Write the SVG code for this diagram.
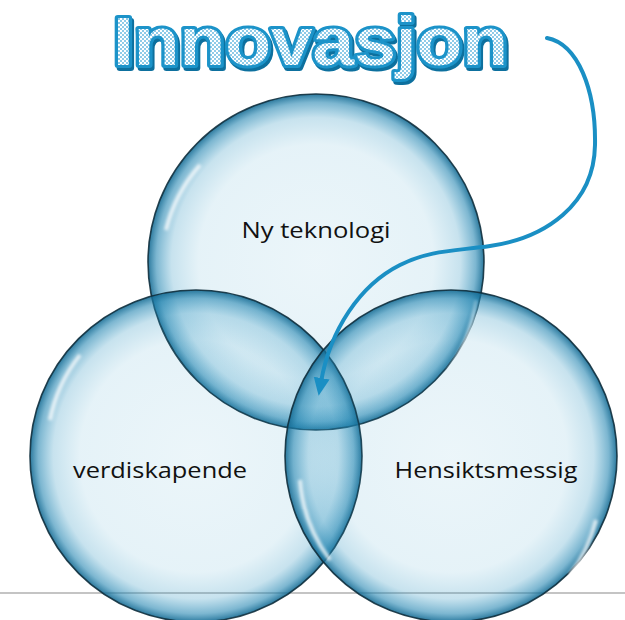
<svg xmlns="http://www.w3.org/2000/svg" width="625" height="620" viewBox="0 0 625 620">
<defs>
  <radialGradient id="bubble" cx="50%" cy="50%" r="50%">
    <stop offset="0%" stop-color="rgb(40,150,195)" stop-opacity="0.09"/>
    <stop offset="70%" stop-color="rgb(40,150,195)" stop-opacity="0.12"/>
    <stop offset="86%" stop-color="rgb(40,145,190)" stop-opacity="0.26"/>
    <stop offset="95%" stop-color="rgb(30,130,175)" stop-opacity="0.58"/>
    <stop offset="100%" stop-color="rgb(20,105,145)" stop-opacity="0.9"/>
  </radialGradient>
  <pattern id="checker" width="4" height="4" patternUnits="userSpaceOnUse">
    <rect width="4" height="4" fill="#ffffff"/>
    <rect width="2" height="2" fill="#8fcbe8"/>
    <rect x="2" y="2" width="2" height="2" fill="#8fcbe8"/>
  </pattern>
  <filter id="blur" x="-20%" y="-20%" width="140%" height="140%">
    <feGaussianBlur stdDeviation="1.6"/>
  </filter>
  <filter id="shadow" x="-5%" y="-10%" width="110%" height="130%">
    <feOffset in="SourceAlpha" dx="2" dy="3" result="off"/>
    <feFlood flood-color="#0d6f9e"/>
    <feComposite in2="off" operator="in" result="sh"/>
    <feMerge>
      <feMergeNode in="sh"/>
      <feMergeNode in="SourceGraphic"/>
    </feMerge>
  </filter>
  <marker id="arrow" markerUnits="userSpaceOnUse" markerWidth="20" markerHeight="20" refX="4" refY="8" orient="auto">
    <path d="M0,0 L18,8 L0,16 Z" fill="#1a8fc4"/>
  </marker>
  <style>
    .bubble { fill: url(#bubble); stroke: #0f2f3d; stroke-width: 1.6; stroke-opacity: 0.9; }
    .hl { fill: none; stroke: #ffffff; stroke-width: 4; stroke-opacity: 0.75; filter: url(#blur); }
    .label { font-family: "Open Sans", "DejaVu Sans", sans-serif; font-size: 22px; fill: #111111; }
    .title { font-family: "Liberation Sans", Arial, sans-serif; font-weight: bold; font-size: 68px; }
  </style>
</defs>
<rect width="625" height="620" fill="#ffffff"/>
<line x1="0" y1="593" x2="625" y2="593" stroke="#c4c4c4" stroke-width="2"/>

<g id="title" filter="url(#shadow)">
  <text class="title" x="113" y="65" textLength="395" lengthAdjust="spacingAndGlyphs" fill="url(#checker)" stroke="#1a93c9" stroke-width="6" stroke-linejoin="round" paint-order="stroke">Innovasjon</text>
</g>

<g id="node-ny-teknologi">
  <circle class="bubble" cx="316" cy="262" r="168"/>
  <path class="hl" d="M166,230 A152,152 0 0 1 200,165"/>
  <path class="hl" d="M476,300 A162,162 0 0 1 448,372"/>
  <text class="label" x="316" y="238" text-anchor="middle" textLength="149" lengthAdjust="spacingAndGlyphs">Ny teknologi</text>
</g>

<g id="node-verdiskapende">
  <circle class="bubble" cx="196" cy="456" r="166"/>
  <path class="hl" d="M50,420 A150,150 0 0 1 80,355"/>
  <text class="label" x="160" y="478" text-anchor="middle" textLength="174" lengthAdjust="spacingAndGlyphs">verdiskapende</text>
</g>

<g id="node-hensiktsmessig">
  <circle class="bubble" cx="451" cy="456" r="166"/>
  <path class="hl" d="M300,480 A152,152 0 0 0 330,560"/>
  <path class="hl" d="M596,520 A160,160 0 0 1 570,575"/>
  <text class="label" x="486" y="478" text-anchor="middle" textLength="183" lengthAdjust="spacingAndGlyphs">Hensiktsmessig</text>
</g>

<g id="connectors">
  <path d="M547,38 C578,44 596,90 595,145 C594,205 545,238 490,246 C455,251 430,250 400,265 C360,285 330,330 321,382" fill="none" stroke="#1a8fc4" stroke-width="4" stroke-linecap="round" marker-end="url(#arrow)"/>
</g>
</svg>
